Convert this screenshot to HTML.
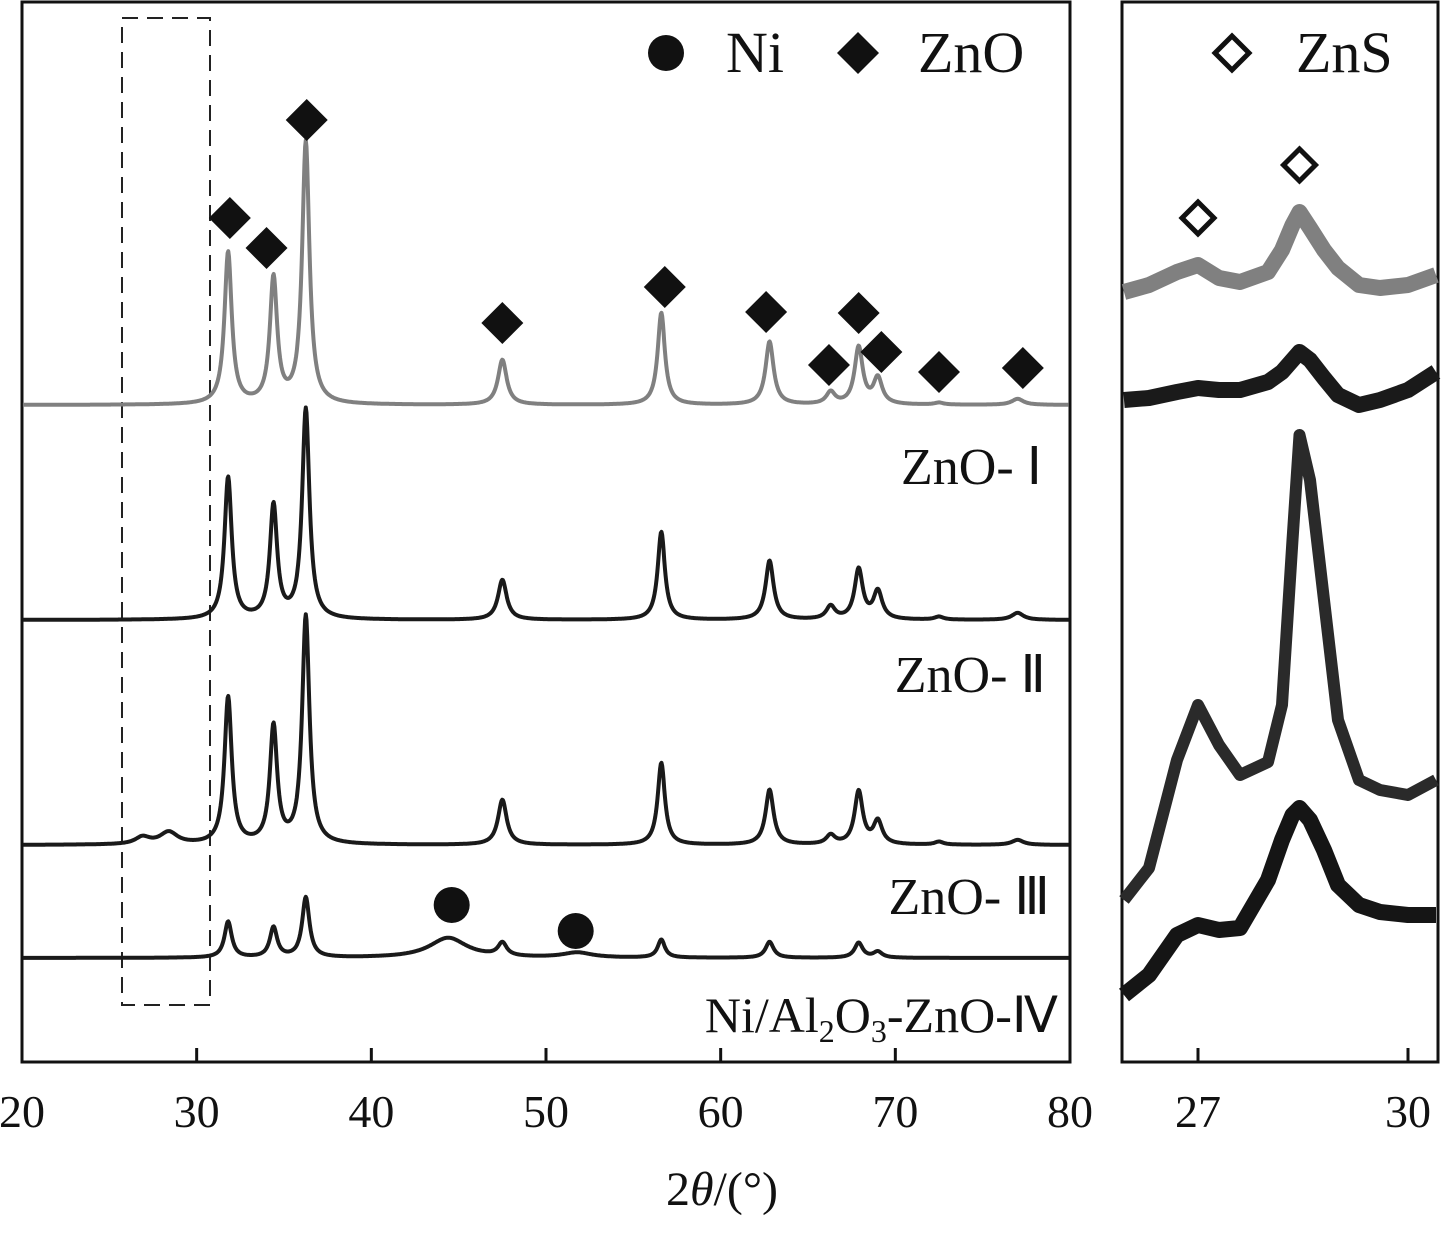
<!DOCTYPE html>
<html><head><meta charset="utf-8"><style>
body{margin:0;background:#fff}
svg text{font-family:"Liberation Serif",serif;fill:#111}
</style></head><body>
<svg width="1442" height="1228" viewBox="0 0 1442 1228">
<g id="main"></g>
<g id="inset"></g>
</svg>
<script>
const NS="http://www.w3.org/2000/svg";
// ---------- data ----------
const peakPos=[31.8,34.4,36.25,44.4,47.5,51.8,56.6,62.8,66.3,67.9,69.0,72.5,77.0];
const peakWidth=[0.25,0.25,0.25,1.3,0.3,1.0,0.25,0.28,0.3,0.28,0.3,0.3,0.4];
const seriesNames=["ZnO-I","ZnO-II","ZnO-III","Ni/Al2O3-ZnO-IV"];
const seriesBase=[405,620,845,958];
const hI=[152,125,262,0,45,0,92,63,12,57,26,2,6];
const hII=[142,113,210,0,40,0,88,59,13,50,28,3,7];
const hIII=[147,117,228,0,45,0,82,55,9,53,23,3,5];
const hIV=[36,30,60,20,13,5,18,16,0,15,6,0,0];
const seriesHeights=[hI,hII,hIII,hIV];
const seriesColors=["#808080","#1a1a1a","#1a1a1a","#1a1a1a"];
const extraIII=[[26.9,7,0.5],[28.4,12,0.6]];
const xTicks=[20,30,40,50,60,70,80];
const diamondMarks=[[31.9,218],[34.0,248],[36.3,120],[47.5,323],[56.8,287],[62.6,312],[66.2,365],[67.9,313],[69.2,352],[72.5,372],[77.3,368]];
const circleMarks=[[44.6,905],[51.7,931]];
// inset
const insetTicks=[27,30];
const insX=[25.9,26.3,26.7,27.0,27.3,27.6,28.0,28.2,28.35,28.45,28.6,28.8,29.0,29.3,29.6,30.0,30.43];
const ins1=[292,285,272,265,278,282,272,250,225,212,228,250,268,285,288,285,275];
const ins2=[400,398,392,388,390,390,382,372,360,352,360,378,395,405,400,390,372];
const ins3=[900,868,760,705,745,775,762,705,540,435,480,600,720,780,790,795,780];
const ins4=[995,975,935,925,930,928,880,840,815,808,820,850,885,905,912,915,915];
const insColors=["#808080","#1a1a1a","#2a2a2a","#151515"];
// ---------- helpers ----------
function el(t,a,p){const e=document.createElementNS(NS,t);for(const k in a)e.setAttribute(k,a[k]);p.appendChild(e);return e;}
const main=document.getElementById('main'),inset=document.getElementById('inset');
const X0=22,X1=1070,YT=2,YB=1062;
const xs=v=>X0+(v-20)/60*(X1-X0);
const IX0=1122,IX1=1438;
const ixs=v=>1198+(v-27)*70;
let f=el('rect',{x:X0,y:YT,width:X1-X0,height:YB-YT,fill:'none',stroke:'#111','stroke-width':3},main);

let dr=el('rect',{x:122,y:18,width:88,height:987,fill:'none',stroke:'#222','stroke-width':2,'stroke-dasharray':'16,9'},main);

xTicks.forEach(t=>{
 const tk=el('line',{x1:xs(t),x2:xs(t),y1:YB,y2:YB-14,stroke:'#111','stroke-width':3},main);
 
 const tl=el('text',{x:xs(t),y:1127,'font-size':46,'text-anchor':'middle'},main);tl.textContent=t;
 
});
const xt=el('text',{x:722,y:1205,'font-size':48,'text-anchor':'middle'},main);
xt.innerHTML='2<tspan font-style="italic">θ</tspan>/(°)';

seriesHeights.forEach((h,si)=>{
 let d='';
 for(let v=20.05;v<=79.95;v+=0.04){
  let y=0;
  peakPos.forEach((p,i)=>{const w=peakWidth[i];y+=h[i]*w*w/((v-p)*(v-p)+w*w);});
  if(si===2)extraIII.forEach(e=>{y+=e[1]*e[2]*e[2]/((v-e[0])**2+e[2]**2);});
  d+=(d?'L':'M')+xs(v).toFixed(1)+','+(seriesBase[si]-y).toFixed(1);
 }
 const p=el('path',{d,fill:'none',stroke:seriesColors[si],'stroke-width':4,'stroke-linejoin':'round'},main);
 
});
function diamond(cx,cy,r,fill,parent,sw){
 return el('polygon',{points:`${cx},${cy-r} ${cx+r},${cy} ${cx},${cy+r} ${cx-r},${cy}`,fill,stroke:'#111','stroke-width':sw||0},parent);}
diamondMarks.forEach(m=>{const e=diamond(xs(m[0]),m[1],21,'#111',main);
 });
circleMarks.forEach(m=>{const e=el('circle',{cx:xs(m[0]),cy:m[1],r:18,fill:'#111'},main);
 });
let lc=el('circle',{cx:666,cy:53,r:18,fill:'#111'},main);
let lt=el('text',{x:726,y:72,'font-size':58},main);lt.textContent='Ni';
let ld=diamond(858,53,21,'#111',main);
let lt2=el('text',{x:918,y:72,'font-size':58},main);lt2.textContent='ZnO';
const labs=[[1042,484,'ZnO- Ⅰ'],[1046,692,'ZnO- Ⅱ'],[1050,914,'ZnO- Ⅲ']];
labs.forEach(l=>{const t=el('text',{x:l[0],y:l[1],'font-size':52,'text-anchor':'end'},main);t.textContent=l[2];
 });
const l4=el('text',{x:1058,y:1032,'font-size':50,'text-anchor':'end'},main);
l4.innerHTML='Ni/Al<tspan font-size="32" dy="10">2</tspan><tspan dy="-10">O</tspan><tspan font-size="32" dy="10">3</tspan><tspan dy="-10">-ZnO-Ⅳ</tspan>';

let f2=el('rect',{x:IX0,y:YT,width:IX1-IX0,height:YB-YT,fill:'none',stroke:'#111','stroke-width':3},inset);

insetTicks.forEach(t=>{
 const tk=el('line',{x1:ixs(t),x2:ixs(t),y1:YB,y2:YB-14,stroke:'#111','stroke-width':3},inset);
 
 const tl=el('text',{x:ixs(t),y:1127,'font-size':46,'text-anchor':'middle'},inset);tl.textContent=t;
 
});
[ins1,ins2,ins3,ins4].forEach((s,si)=>{
 let d='';insX.forEach((v,i)=>{d+=(i?'L':'M')+Math.min(IX1-2,Math.max(IX0+2,ixs(v))).toFixed(1)+','+s[i];});
 const p=el('path',{d,fill:'none',stroke:insColors[si],'stroke-width':(si==2?12:16),'stroke-linejoin':'round'},inset);
 
});
[[27.0,218],[28.45,165]].forEach(m=>{const e=diamond(ixs(m[0]),m[1],16,'#fff',inset,5);
 });
let ld3=diamond(1232,53,17,'#fff',inset,5);
let lt3=el('text',{x:1296,y:72,'font-size':58},inset);lt3.textContent='ZnS';
</script>
</body></html>
